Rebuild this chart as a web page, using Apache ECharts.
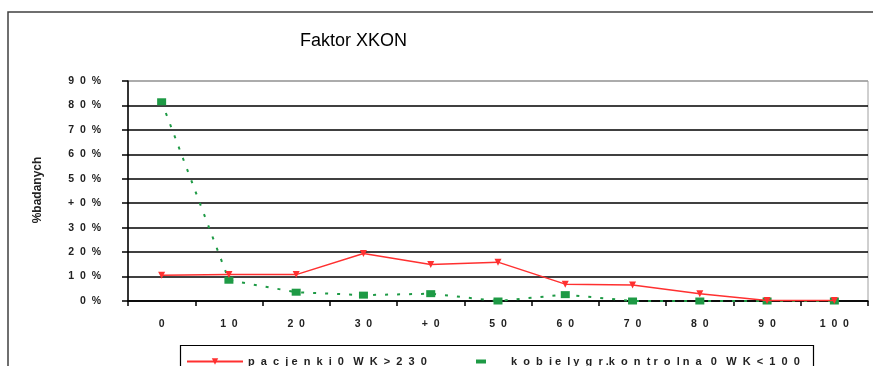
<!DOCTYPE html>
<html>
<head>
<meta charset="utf-8">
<script src="https://cdn.jsdelivr.net/npm/echarts@6/dist/echarts.min.js"></script>
<style>
html,body{margin:0;padding:0;background:#fff;}
#c{width:873px;height:366px;}
</style>
</head>
<body>
<div id="c"></div>
<script>
var categories = ['0','10','20','30','40','50','60','70','80','90','100'];
var categoryLabels = ['0','1  0','2  0','3  0','+  0','5  0','6  0','7  0','8  0','9  0','1  0  0'];
var pacjenki = [10.5, 10.8, 10.8, 19.4, 14.9, 15.9, 6.9, 6.5, 3.0, 0.2, 0.2];
var kobiety = [81.5, 8.5, 3.6, 2.4, 3.0, 0.0, 2.6, 0.0, 0.0, 0.0, 0.0];
var yTickLabels = ['0  %','1  0  %','2  0  %','3  0  %','+  0  %','5  0  %','6  0  %','7  0  %','8  0  %','9  0  %'];
var seriesNames = ['p  a  c  j e  n  k  i  0   W  K  >  2  3  0', 'k  o  b  i e  l y  g  r .k  o  n  t r  o  l n  a   0   W  K  <  1  0  0'];

var chart = echarts.init(document.getElementById('c'), null, {renderer:'canvas'});
var splitColors = [];
for (var i = 0; i < 10; i++) splitColors.push(i === 9 ? '#a0a0a0' : '#000');

chart.setOption({
  animation: false,
  title: {
    text: 'Faktor XKON',
    left: 295, top: 27,
    textStyle: {fontFamily: 'Liberation Sans, Arial, sans-serif', fontSize: 18, fontWeight: 'normal', color: '#000'}
  },
  graphic: [
    {type:'polyline', shape:{points:[[8,366],[8,12],[873,12]]}, style:{stroke:'#404040', lineWidth:1.5, fill:null}},
    {type:'rect', shape:{x:180.5, y:345.5, width:633, height:30}, style:{stroke:'#000', lineWidth:1.2, fill:'none'}},
    {type:'text', x: 38, y: 190, rotation: Math.PI/2, style:{text:'%badanych', font:'bold 12px Liberation Sans, Arial, sans-serif', fill:'#222', textAlign:'center', textVerticalAlign:'middle'}}
  ],
  legend: [
    {
      data: [seriesNames[0]],
      left: 181, top: 351,
      itemWidth: 56, itemHeight: 8, itemGap: 10,
      textStyle: {fontFamily: 'Liberation Sans, Arial, sans-serif', fontSize: 11, fontWeight: 'bold', color: '#222'}
    },
    {
      data: [{name: seriesNames[1], icon: 'rect'}],
      left: 471, top: 351,
      itemWidth: 10, itemHeight: 4, itemGap: 26,
      textStyle: {fontFamily: 'Liberation Sans, Arial, sans-serif', fontSize: 11, fontWeight: 'bold', color: '#222', padding:[0,0,0,20]}
    }
  ],
  grid: {left: 128, right: 5, top: 81, bottom: 65, show: true, borderColor: '#a0a0a0', borderWidth: 1},
  xAxis: {
    type: 'category',
    data: categories,
    boundaryGap: true,
    axisLine: {lineStyle: {color: '#000', width: 1.5}},
    axisTick: {show: true, length: 5, lineStyle: {color: '#000', width: 1.5}},
    axisLabel: {
      margin: 18, color: '#222', fontFamily: 'Liberation Sans, Arial, sans-serif', fontSize: 10.5, fontWeight: 'bold',
      formatter: function (v, idx) { return categoryLabels[idx]; }
    },
    splitLine: {show: false}
  },
  yAxis: {
    type: 'value', min: 0, max: 90, interval: 10,
    axisLine: {show: true, lineStyle: {color: '#000', width: 1.5}},
    axisTick: {show: true, length: 6, lineStyle: {color: '#000', width: 1.5}},
    axisLabel: {
      margin: 27, color: '#222', fontFamily: 'Liberation Sans, Arial, sans-serif', fontSize: 10.5, fontWeight: 'bold',
      formatter: function (v) { return yTickLabels[Math.round(v/10)]; }
    },
    splitLine: {show: true, lineStyle: {color: splitColors, width: 1.5}}
  },
  series: [
    {
      name: seriesNames[0], type: 'line', data: pacjenki,
      symbol: 'triangle', symbolRotate: 180, symbolSize: 7,
      lineStyle: {color: '#ff3030', width: 1.5},
      itemStyle: {color: '#ff3030'},
      z: 3
    },
    {
      name: seriesNames[1], type: 'line', data: kobiety,
      symbol: 'rect', symbolSize: [9, 7],
      lineStyle: {color: '#1e9a45', width: 2, type: [3, 9]},
      itemStyle: {color: '#1e9a45'},
      z: 2
    }
  ]
});
</script>
</body>
</html>
